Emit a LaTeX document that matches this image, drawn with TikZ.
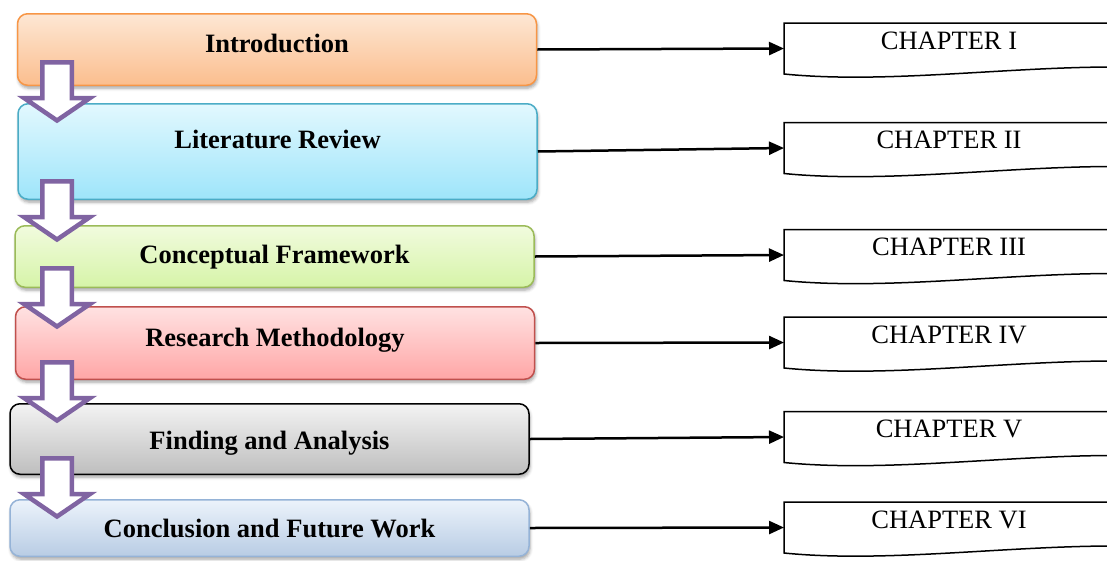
\documentclass[tikz,border=0pt]{standalone}
\usepackage{fontspec}
\setmainfont{Liberation Serif}
\usetikzlibrary{
    arrows.meta,
    shadows.blur
}

\definecolor{introtop}{RGB}{253,231,212}
\definecolor{introbot}{RGB}{251,190,142}
\definecolor{introline}{RGB}{247,150,70}
\definecolor{littop}{RGB}{226,248,254}
\definecolor{litbot}{RGB}{158,229,250}
\definecolor{litline}{RGB}{75,172,198}
\definecolor{contop}{RGB}{241,251,222}
\definecolor{conbot}{RGB}{214,244,168}
\definecolor{conline}{RGB}{155,187,89}
\definecolor{mettop}{RGB}{255,226,226}
\definecolor{metbot}{RGB}{255,166,166}
\definecolor{metline}{RGB}{192,80,77}
\definecolor{fintop}{RGB}{243,243,243}
\definecolor{finbot}{RGB}{190,190,190}
\definecolor{contop2}{RGB}{236,243,251}
\definecolor{conbot2}{RGB}{184,204,228}
\definecolor{conline2}{RGB}{149,179,215}
\definecolor{arrowpurple}{RGB}{128,100,162}

\begin{document}
\begin{tikzpicture}[
    x=1pt, y=1pt,
    stagebox/.style = {rectangle, rounded corners=10pt, line width=1.5pt,
                       minimum width=519pt,
                       font=\fontsize{26.5}{30}\selectfont\bfseries,
                       text height=18pt, text depth=0pt,
                       blur shadow={shadow xshift=1pt, shadow yshift=-3pt,
                                    shadow blur radius=3pt, shadow opacity=35}},
    chapbox/.style = {rectangle, outer sep=0pt, inner sep=0pt,
                      minimum width=330pt, minimum height=51pt,
                      font=\fontsize{26.5}{30}\selectfont,
                      text height=18pt, text depth=17pt},
    chapline/.style = {draw=black, line width=1.5pt},
    blockarrow/.style = {draw=arrowpurple, fill=white, line width=4.5pt},
    linkarrow/.style = {line width=2.5pt, -{Triangle[length=15pt, width=13pt]}}
]
    \useasboundingbox (0,0) rectangle (1107,-560);

    % the six stages
    \node[stagebox, draw=introline, top color=introtop, bottom color=introbot,
          minimum height=71.5pt, text depth=12pt] (intro) at (277,-49.5) {Introduction};
    \node[stagebox, draw=litline, top color=littop, bottom color=litbot,
          minimum height=95.5pt, text depth=24pt] (litrev) at (277.5,-151.5) {Literature Review};
    \node[stagebox, draw=conline, top color=contop, bottom color=conbot,
          minimum height=61.5pt, text depth=4pt] (concept) at (274.5,-256.5) {Conceptual Framework};
    \node[stagebox, draw=metline, top color=mettop, bottom color=metbot,
          minimum height=72.5pt, text depth=12pt] (method) at (275,-343) {Research Methodology};
    \node[stagebox, draw=black, top color=fintop, bottom color=finbot,
          minimum height=70.5pt, text height=21pt] (finding) at (269.5,-439) {Finding and Analysis};
    \node[stagebox, draw=conline2, top color=contop2, bottom color=conbot2,
          minimum height=56.5pt] (concl) at (269.5,-528) {Conclusion and Future Work};

    % chapter tags (document shape, wavy bottom)
    \node[chapbox] (ch1) at (949,-48.5) {CHAPTER I};
    \node[chapbox] (ch2) at (949,-148) {CHAPTER II};
    \node[chapbox] (ch3) at (949,-255) {CHAPTER III};
    \node[chapbox] (ch4) at (949,-342.5) {CHAPTER IV};
    \node[chapbox] (ch5) at (949,-437) {CHAPTER V};
    \node[chapbox] (ch6) at (949,-527.5) {CHAPTER VI};
    \foreach \ch in {ch1,ch2,ch3,ch4,ch5,ch6}
        \draw[chapline] (\ch.north east) -- (\ch.north west) -- (\ch.south west)
            .. controls +(100,-10) and +(-110,0) .. ([yshift=7pt]\ch.south east);

    \draw[linkarrow] (intro.east) -- (ch1.west);
    \draw[linkarrow] (litrev.east) -- (ch2.west);
    \draw[linkarrow] (concept.east) -- (ch3.west);
    \draw[linkarrow] (method.east) -- (ch4.west);
    \draw[linkarrow] (finding.east) -- (ch5.west);
    \draw[linkarrow] (concl.east) -- (ch6.west);

    % block arrows between stages, drawn from their tips
    \foreach \tip in {120.5, 239.5, 326.5, 420.5, 516.5}
        \draw[blockarrow] (57,-\tip) -- ++(33,22.5) -- ++(-18.25,0) -- ++(0,35.75)
            -- ++(-29.5,0) -- ++(0,-35.75) -- ++(-18.25,0) -- cycle;

\end{tikzpicture}
\end{document}
